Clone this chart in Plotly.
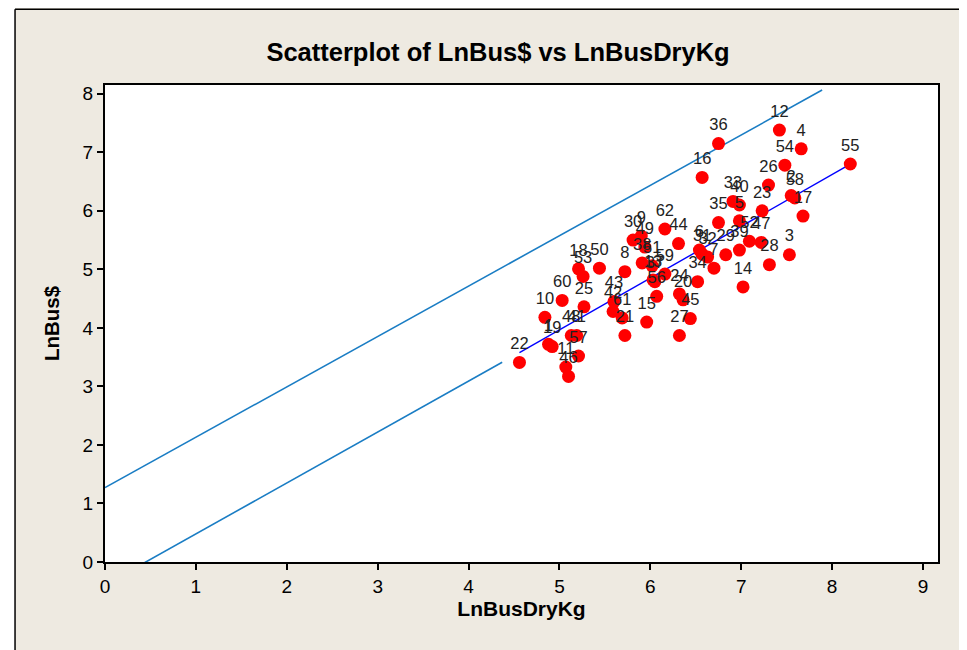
import plotly.graph_objects as go

# ==========================================================
# DATA
# ==========================================================

point_labels = [
    "1", "2", "3", "4", "5", "6", "7", "8", "9", "10",
    "11", "12", "13", "14", "15", "16", "17", "18", "19", "20",
    "21", "22", "23", "24", "25", "26", "27", "28", "29", "30",
    "31", "32", "33", "34", "35", "36", "37", "38", "39", "40",
    "41", "42", "43", "44", "45", "46", "47", "48", "49", "50",
    "51", "52", "53", "54", "55", "56", "57", "58", "59", "60",
    "61", "62",
]

ln_bus_dry_kg = [
    4.88, 7.55, 7.53, 7.66, 6.98, 6.54, 6.70, 5.72, 5.90, 4.84,
    5.07, 7.42, 6.03, 7.02, 5.96, 6.57, 7.68, 5.21, 4.92, 6.36,
    5.72, 4.56, 7.23, 6.32, 5.27, 7.30, 6.32, 7.31, 6.83, 5.81,
    6.57, 6.63, 6.91, 6.52, 6.75, 6.75, 6.05, 5.91, 6.98, 6.98,
    5.19, 5.59, 5.60, 6.31, 6.44, 5.10, 7.22, 5.13, 5.94, 5.44,
    6.02, 7.09, 5.26, 7.48, 8.20, 6.07, 5.21, 7.59, 6.16, 5.03,
    5.69, 6.16,
]

ln_bus_dollars = [
    3.72, 6.26, 5.25, 7.06, 5.83, 5.33, 5.02, 4.96, 5.57, 4.18,
    3.33, 7.38, 4.82, 4.70, 4.10, 6.57, 5.91, 5.01, 3.68, 4.48,
    3.87, 3.41, 6.00, 4.58, 4.36, 6.44, 3.87, 5.08, 5.25, 5.50,
    5.26, 5.21, 6.16, 4.79, 5.80, 7.15, 4.79, 5.11, 5.33, 6.10,
    3.87, 4.28, 4.45, 5.44, 4.16, 3.17, 5.46, 3.87, 5.38, 5.02,
    5.06, 5.48, 4.88, 6.78, 6.80, 4.54, 3.52, 6.22, 4.92, 4.47,
    4.17, 5.69,
]

# reference lines: intercept, slope, x start, x end
upper_line = (1.27, 0.861, 0.0, 7.89)
lower_line = (-0.39, 0.87, 0.33, 4.37)
fit_line = (-0.46, 0.885, 4.56, 8.20)

x_ticks = [0, 1, 2, 3, 4, 5, 6, 7, 8, 9]
y_ticks = [0, 1, 2, 3, 4, 5, 6, 7, 8]


def line_xy(spec):
    b0, b1, xa, xb = spec
    return [xa, xb], [b0 + b1 * xa, b0 + b1 * xb]


# ==========================================================
# FIGURE
# ==========================================================

PAPER = "#EEEAE1"
LIGHT_BLUE = "#1A7DC4"
DARK_BLUE = "#0000FF"
NARROW = "Liberation Sans Narrow, Arial Narrow, Liberation Sans, Arial, sans-serif"
BOLD = "Liberation Sans, Arial, sans-serif"

fig = go.Figure()

for spec, colour, width in [
    (upper_line, LIGHT_BLUE, 1.6),
    (lower_line, LIGHT_BLUE, 1.6),
    (fit_line, DARK_BLUE, 1.4),
]:
    lx, ly = line_xy(spec)
    fig.add_trace(
        go.Scatter(
            x=lx,
            y=ly,
            mode="lines",
            line=dict(color=colour, width=width),
            hoverinfo="skip",
        )
    )

fig.add_trace(
    go.Scatter(
        x=ln_bus_dry_kg,
        y=ln_bus_dollars,
        mode="markers+text",
        text=point_labels,
        textposition="top center",
        textfont=dict(family=NARROW, size=16.5, color="#222222"),
        marker=dict(color="#FF0000", size=13, line=dict(width=0)),
        cliponaxis=False,
    )
)

fig.update_layout(
    width=959,
    height=642,
    showlegend=False,
    paper_bgcolor=PAPER,
    plot_bgcolor="white",
    margin=dict(l=97, r=29, t=77, b=88),
    title=dict(
        text="<b>Scatterplot of LnBus$ vs LnBusDryKg</b>",
        x=0.511,
        xanchor="center",
        y=0.931,
        yanchor="middle",
        font=dict(family=BOLD, size=25.5, color="black"),
    ),
    font=dict(family=BOLD, color="black"),
    shapes=[
        # white strip outside the outer frame
        dict(
            type="rect", xref="paper", yref="paper",
            x0=-0.1165, x1=-0.108, y0=-0.2, y1=1.17,
            fillcolor="white", line=dict(width=0), layer="below",
        ),
        dict(
            type="line", xref="paper", yref="paper",
            x0=-0.108, x1=1.1, y0=1.159, y1=1.159,
            line=dict(color="black", width=1.5),
        ),
        dict(
            type="line", xref="paper", yref="paper",
            x0=-0.108, x1=-0.108, y0=-0.2, y1=1.159,
            line=dict(color="black", width=1.5),
        ),
    ],
)

fig.update_xaxes(
    range=[0, 9.165],
    tickvals=x_ticks,
    ticks="outside",
    ticklen=6,
    tickwidth=1.5,
    tickcolor="black",
    tickfont=dict(family=NARROW, size=19, color="black"),
    showgrid=False,
    zeroline=False,
    showline=True,
    linecolor="black",
    linewidth=2,
    mirror=True,
    title=dict(
        text="<b>LnBusDryKg</b>",
        font=dict(family=BOLD, size=21, color="black"),
        standoff=3,
    ),
)

fig.update_yaxes(
    range=[0, 8.15],
    tickvals=y_ticks,
    ticks="outside",
    ticklen=6,
    tickwidth=1.5,
    tickcolor="black",
    tickfont=dict(family=NARROW, size=19, color="black"),
    showgrid=False,
    zeroline=False,
    showline=True,
    linecolor="black",
    linewidth=2,
    mirror=True,
    title=dict(
        text="<b>LnBus$</b>",
        font=dict(family=BOLD, size=20.5, color="black"),
        standoff=17,
    ),
)

fig.write_html("out.html")
